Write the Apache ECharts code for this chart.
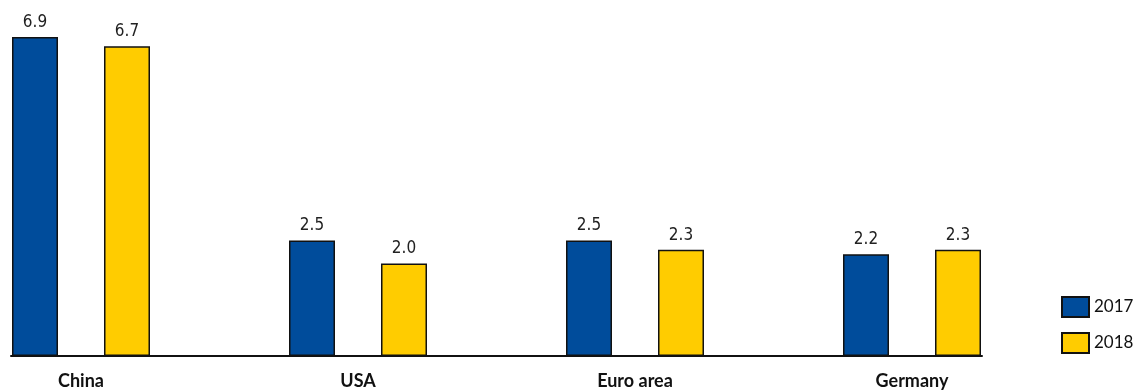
<!DOCTYPE html>
<html>
<head>
<meta charset="utf-8">
<script src="https://cdn.jsdelivr.net/npm/echarts@6/dist/echarts.min.js"></script>
<style>
  html, body { margin: 0; padding: 0; background: #fff; }
  #chart { width: 1135px; height: 390px; }
</style>
</head>
<body>
<div id="chart"></div>
<script>
// growth by region, two years
const categories = ["China", "USA", "Euro area", "Germany"];
const values2017 = [6.9, 2.5, 2.5, 2.2];
const values2018 = [6.7, 2.0, 2.3, 2.3];
const seriesNames = ["2017", "2018"];

const BLUE = "#004c9b";
const YELLOW = "#ffcc00";
const numFont = "'Liberation Sans Narrow', 'Arial Narrow', 'DejaVu Sans Condensed', sans-serif";
const textFont = "Lato, 'Open Sans', sans-serif";

const gridTop = 32.4, gridHeight = 323.6;

let myChart = echarts.init(document.getElementById("chart"));

function barSeries(name, data, color) {
  return {
    name: name,
    type: "bar",
    xAxisIndex: 0,
    yAxisIndex: 0,
    data: data,
    barWidth: 46,
    barGap: "100%",
    itemStyle: { color: color, borderColor: "#111", borderWidth: 1.5 },
    label: {
      show: true,
      position: "top",
      distance: 6,
      color: "#222",
      fontFamily: numFont,
      fontSize: 17,
      formatter: (p) => p.value.toFixed(1),
    },
  };
}

myChart.setOption({
  animation: false,
  grid: [
    { left: -57.5, width: 1108, top: gridTop, height: gridHeight, outerBoundsMode: "none", containLabel: false },
    // second grid only draws the baseline from first to last bar
    { left: 11, width: 971, top: gridTop, height: gridHeight, outerBoundsMode: "none", containLabel: false },
  ],
  legend: {
    orient: "vertical",
    left: 1056,
    top: 291,
    icon: "rect",
    itemWidth: 27,
    itemHeight: 20,
    itemGap: 14,
    data: seriesNames,
    textStyle: { fontFamily: textFont, fontSize: 17, color: "#111" },
  },
  xAxis: [
    {
      type: "category",
      gridIndex: 0,
      data: categories,
      axisLine: { show: false },
      axisTick: { show: false },
      axisLabel: {
        margin: 16,
        fontFamily: textFont,
        fontWeight: "bold",
        fontSize: 18,
        color: "#111",
      },
    },
    {
      type: "value",
      gridIndex: 1,
      min: 0,
      max: 1,
      axisLine: { show: true, lineStyle: { color: "#111", width: 2 } },
      axisTick: { show: false },
      axisLabel: { show: false },
      splitLine: { show: false },
    },
  ],
  yAxis: [
    {
      type: "value",
      gridIndex: 0,
      min: 0,
      max: 7,
      show: false,
    },
    {
      type: "value",
      gridIndex: 1,
      min: 0,
      max: 1,
      show: false,
    },
  ],
  series: [
    barSeries(seriesNames[0], values2017, BLUE),
    barSeries(seriesNames[1], values2018, YELLOW),
  ],
});
</script>
</body>
</html>
